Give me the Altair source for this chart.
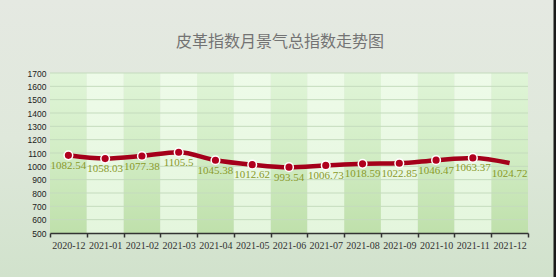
import altair as alt
import pandas as pd

title_text = "皮革指数月景气总指数走势图"
months = ["2020-12", "2021-01", "2021-02", "2021-03", "2021-04", "2021-05", "2021-06",
          "2021-07", "2021-08", "2021-09", "2021-10", "2021-11", "2021-12"]
values = [1082.54, 1058.03, 1077.38, 1105.5, 1045.38, 1012.62, 993.54,
          1006.73, 1018.59, 1022.85, 1046.47, 1063.37, 1024.72]
labels = ["1082.54", "1058.03", "1077.38", "1105.5", "1045.38", "1012.62", "993.54",
          "1006.73", "1018.59", "1022.85", "1046.47", "1063.37", "1024.72"]
marker_shown = [True] * 12 + [False]
y_ticks = [500, 600, 700, 800, 900, 1000, 1100, 1200, 1300, 1400, 1500, 1600, 1700]
y_min, y_max = 500, 1700

df = pd.DataFrame({"month": months, "value": values, "label": labels,
                   "marker": marker_shown})
stripes = pd.DataFrame({"month": months,
                        "parity": [i % 2 for i in range(len(months))],
                        "lo": [y_min] * len(months), "hi": [y_max] * len(months)})
grid_df = pd.DataFrame({"v": y_ticks[1:]})

W, H = 478, 160

xscale = alt.Scale(domain=months, paddingInner=0, paddingOuter=0)
yscale = alt.Scale(domain=[y_min, y_max], nice=False, zero=False)
one = pd.DataFrame({"a": [0]})

x_axis = alt.Axis(title=None, labelAngle=0, tickBand="extent", tickSize=4,
                  tickColor="#333333", tickWidth=1.5, domainColor="#333333",
                  domainWidth=1.5, labelFont="Liberation Serif", labelFontSize=10,
                  labelColor="#333333", labelPadding=3, grid=False,
                  labelOverlap=False, zindex=1)
y_axis = alt.Axis(title=None, values=y_ticks, format="d", labelOverlap=False,
                  ticks=False, domain=False, labelFont="Liberation Sans",
                  labelFontSize=8.5, labelColor="#222222", labelPadding=4,
                  grid=False, zindex=1)


def X(field):
    return alt.X(field, scale=xscale, axis=x_axis)


def Y(field):
    return alt.Y(field, scale=yscale, axis=y_axis)


bg = alt.Chart(one).mark_rect(
    fill=alt.Gradient(gradient="linear", x1=0, x2=0, y1=0, y2=1,
                      stops=[alt.GradientStop(color="#e5e9e2", offset=0),
                             alt.GradientStop(color="#dfe8db", offset=0.5),
                             alt.GradientStop(color="#d1e2cc", offset=1)])
).encode(x=alt.value(-50), x2=alt.value(506), y=alt.value(-73), y2=alt.value(204))

edge = alt.Chart(one).mark_rect(fill="#1a1a1a").encode(
    x=alt.value(503.5), x2=alt.value(506), y=alt.value(-73), y2=alt.value(204))

title = alt.Chart(one).mark_text(
    text=title_text, font="Noto Sans CJK SC", fontSize=16, color="#737373",
    align="center", baseline="middle"
).encode(x=alt.value(230), y=alt.value(-31))

dark = alt.Chart(stripes[stripes.parity == 0]).mark_rect(
    fill=alt.Gradient(gradient="linear", x1=0, x2=0, y1=0, y2=1,
                      stops=[alt.GradientStop(color="#e0f5d8", offset=0),
                             alt.GradientStop(color="#d2edc5", offset=0.5),
                             alt.GradientStop(color="#bfe0ab", offset=1)])
).encode(x=X("month:O"), y=Y("lo:Q"), y2="hi:Q")

light = alt.Chart(stripes[stripes.parity == 1]).mark_rect(
    fill=alt.Gradient(gradient="linear", x1=0, x2=0, y1=0, y2=1,
                      stops=[alt.GradientStop(color="#eefbe9", offset=0),
                             alt.GradientStop(color="#e4f6dd", offset=1)])
).encode(x=X("month:O"), y=Y("lo:Q"), y2="hi:Q")

grid = alt.Chart(grid_df).mark_rule(color="#c4dbbd", strokeWidth=1).encode(
    y=Y("v:Q"), x=alt.value(0), x2=alt.value(W))

base = alt.Chart(df)

line = base.mark_line(color="#a4001a", strokeWidth=4.5, interpolate="monotone").encode(
    x=X("month:O"), y=Y("value:Q"))

pts = alt.Chart(df[df.marker]).mark_point(
    filled=True, fill="#b0001e", stroke="#ffffff", strokeWidth=1.5, size=75, opacity=1,
    shape="circle"
).encode(x=X("month:O"), y=Y("value:Q"))

txt = base.mark_text(font="Liberation Serif", fontSize=11, color="#8a9a2a",
                     baseline="middle", dy=10.5).encode(
    x=X("month:O"), y=Y("value:Q"), text="label:N")

chart = alt.layer(bg, edge, title, dark, light, grid, line, pts, txt).properties(
    width=W, height=H,
    autosize=alt.AutoSizeParams(type="none"),
    padding={"left": 50, "top": 73, "right": 28, "bottom": 44},
).configure_view(stroke=None)

chart.save("out.html", embed_options={"renderer": "svg", "actions": False})
